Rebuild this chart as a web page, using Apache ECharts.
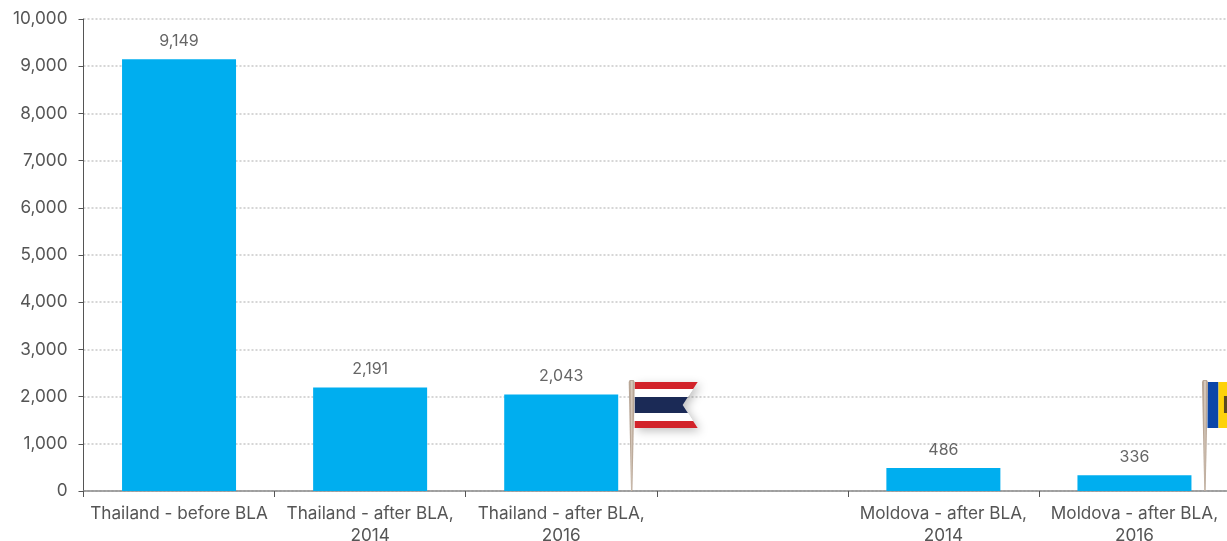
<!DOCTYPE html>
<html><head><meta charset="utf-8">
<style>html,body{margin:0;padding:0;background:#fff}#c{width:1227px;height:541px}</style>
<script src="https://cdn.jsdelivr.net/npm/echarts@6/dist/echarts.min.js"></script>
</head><body><div id="c"></div>
<script>
const categories = ['Thailand - before BLA','Thailand - after BLA,\n2014','Thailand - after BLA,\n2016','','Moldova - after BLA,\n2014','Moldova - after BLA,\n2016'];
const values = [9149,2191,2043,null,486,336];
const yTicks = {min:0,max:10000,interval:1000};
const flagCategories = [2,5];
const flagNames = ['thailand','moldova'];

const chart = echarts.init(document.getElementById('c'),null,{renderer:'canvas'});
const font = 'Inter';
function poly(points,fill,extra){return Object.assign({type:'polygon',shape:{points},style:{fill}},extra||{});}
function tail(y,h,w,n){const t=1-Math.abs((y-h/2)/(h/2));return w-n*t;}
function thai(x,y){
  const w=63,h=46,n=15;
  const bands=[[0,7,'#d2232a'],[7,15,'#ffffff'],[15,31,'#1b2a56'],[31,39,'#ffffff'],[39,46,'#d2232a']];
  const els=[];
  els.push(poly([[x,y],[x+w,y],[x+w-n,y+h/2],[x+w,y+h],[x,y+h]],'#fff',{style:{fill:'#fff',shadowBlur:10,shadowColor:'rgba(0,0,0,0.25)',shadowOffsetX:3,shadowOffsetY:3}}));
  bands.forEach(b=>{
    const pts=[[x,y+b[0]],[x+tail(b[0],h,w,n),y+b[0]]];
    if(b[0]<h/2&&b[1]>h/2)pts.push([x+w-n,y+h/2]);
    pts.push([x+tail(b[1],h,w,n),y+b[1]],[x,y+b[1]]);
    els.push(poly(pts,b[2]));
  });
  return els;
}
function moldova(x,y){
  const h=46;
  return [
    {type:'rect',shape:{x:x,y:y,width:11,height:h},style:{fill:'#0b46a8'}},
    {type:'rect',shape:{x:x+11,y:y,width:20,height:h},style:{fill:'#fdd20a'}},
    {type:'rect',shape:{x:x+16.5,y:y+14,width:8,height:17},style:{fill:'#5a4a20'}}
  ];
}
chart.setOption({
  animation:false,
  grid:{left:83.5,top:19,right:-3,height:472,containLabel:false,outerBoundsMode:'none'},
  xAxis:{type:'category',data:categories,boundaryGap:true,
    axisLine:{show:true,lineStyle:{color:'#8a8a8a',width:1.5}},
    axisTick:{show:true,alignWithLabel:false,length:6,lineStyle:{color:'#555'}},
    axisLabel:{color:'#555',fontFamily:font,fontSize:17.2,lineHeight:22,margin:12,interval:0,hideOverlap:false},
    splitLine:{show:false}},
  yAxis:{type:'value',min:yTicks.min,max:yTicks.max,interval:yTicks.interval,
    axisLine:{show:true,lineStyle:{color:'#555'}},
    axisTick:{show:true,length:5,lineStyle:{color:'#555'}},
    axisLabel:{color:'#555',fontFamily:font,fontSize:17.2,margin:16,formatter:v=>v.toLocaleString('en-US')},
    splitLine:{show:true,lineStyle:{color:'#d6d6d6',type:[2,2],width:2}}},
  series:[
    {type:'bar',data:values,barWidth:114,itemStyle:{color:'#00aeef'},z:3,
     label:{show:true,position:'top',distance:10,color:'#666',fontFamily:font,fontSize:16,formatter:p=>p.value.toLocaleString('en-US')}},
    {type:'custom',z:5,clip:false,silent:true,
     data:flagCategories.map((c,i)=>[c,0,i]),
     encode:{x:0,y:1},
     renderItem:function(params,api){
       const base=api.coord([api.value(0),0]);
       const px=base[0]+70.5, py=base[1];
       const top=py-111;
       const name=flagNames[api.value(2)];
       const cloth=name==='thailand'?thai(px+3,top+2):moldova(px+2.5,top+2);
       const pole=[
         poly([[px-3,top+2],[px-2,top],[px+2,top],[px+3,top+2],[px+0.7,py],[px-0.7,py]],'#b9a797'),
         poly([[px-1,top+1],[px+1,top+1],[px+0.2,py],[px-0.2,py]],'#d6c8ba')
       ];
       return {type:'group',children:cloth.concat(pole)};
     }}
  ]
});
</script></body></html>
